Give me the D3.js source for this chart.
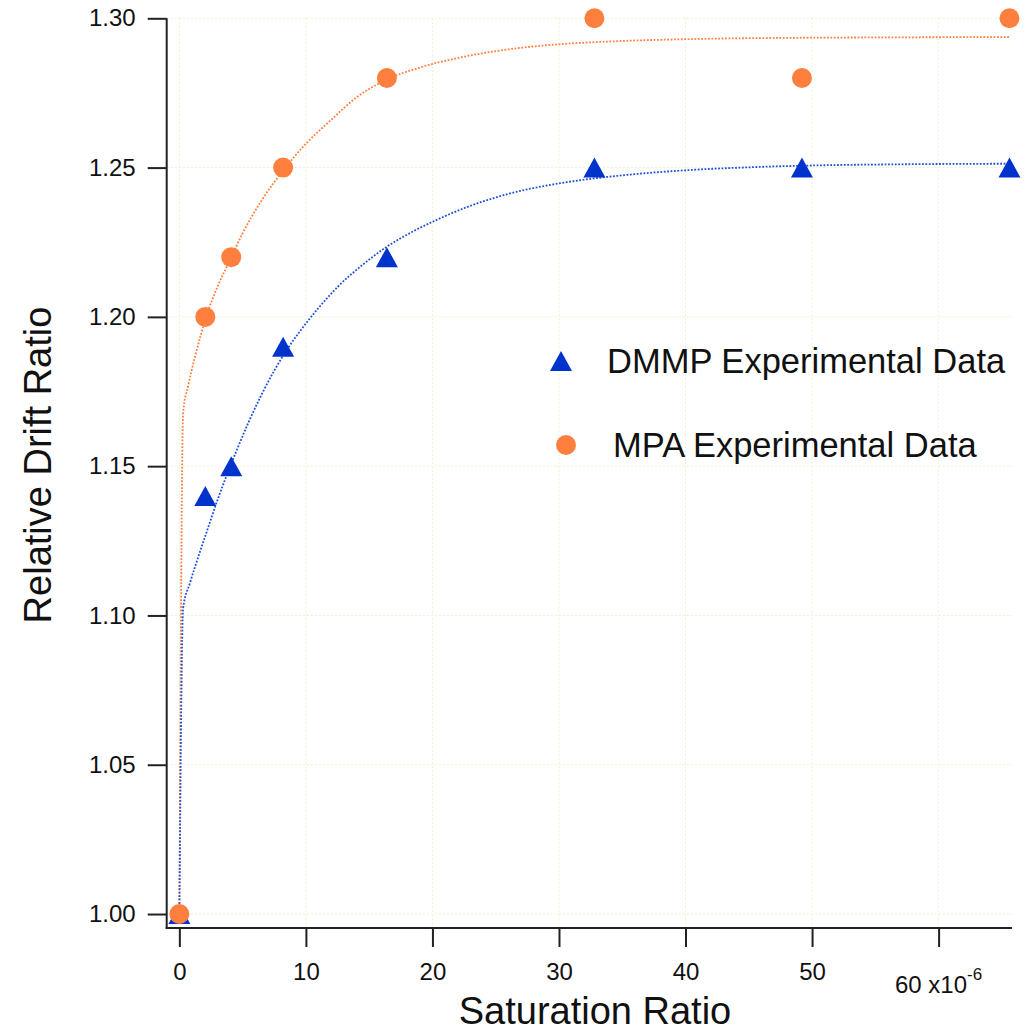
<!DOCTYPE html>
<html>
<head>
<meta charset="utf-8">
<script src="https://cdn.jsdelivr.net/npm/d3@7"></script>
<style>
  html, body { margin: 0; padding: 0; background: #fff; }
  svg { display: block; font-family: "Liberation Sans", Arial, Helvetica, sans-serif; }
</style>
</head>
<body>
<svg id="chart" width="1030" height="1031"></svg>
<script>
// ---------- data ----------
const saturation = [0, 2.05, 4.1, 8.2, 16.4, 32.8, 49.2, 65.6];           // x 10^-6
const dmmpValues = [1.00, 1.14, 1.15, 1.19, 1.22, 1.25, 1.25, 1.25];
const mpaValues  = [1.00, 1.20, 1.22, 1.25, 1.28, 1.30, 1.28, 1.30];

// fitted curves
const dmmpFitX = [0, 0.3, 0.85, 1.5, 2.2, 3.0, 3.7, 4.5, 5.5, 6.5, 7.5, 8.5, 9.5, 11, 12.5, 14.5, 16.4, 18.5, 20.5, 23, 26, 30, 35, 40, 45, 50, 57, 65.6];
const dmmpFitY = [1.000, 1.1025, 1.111, 1.1197, 1.1285, 1.1385, 1.1465, 1.1550, 1.1650, 1.1740, 1.1820, 1.1890, 1.1950, 1.2030, 1.2100, 1.2175, 1.2235, 1.2287, 1.2328, 1.2372, 1.2412, 1.2447, 1.2474, 1.2491, 1.2501, 1.2507, 1.2511, 1.2513];
const mpaFitX = [0, 0.3, 0.7, 1.2, 1.7, 2.2, 3.0, 4.0, 5.0, 6.5, 8.2, 10, 12, 14, 16.4, 19, 22, 26, 30, 35, 40, 50, 65.6];
const mpaFitY = [1.000, 1.168, 1.177, 1.186, 1.194, 1.201, 1.210, 1.219, 1.228, 1.239, 1.249, 1.258, 1.266, 1.2735, 1.2795, 1.2835, 1.2867, 1.2896, 1.2913, 1.2924, 1.2930, 1.2935, 1.2937];

const xTicks = [0, 10, 20, 30, 40, 50, 60];
const yTicks = [1.00, 1.05, 1.10, 1.15, 1.20, 1.25, 1.30];
const legendLabels = ["DMMP Experimental Data", "MPA Experimental Data"];

// ---------- layout ----------
const svg = d3.select("#chart");
const ORANGE = "#ff7f3f";
const BLUE = "#0033cc";
const BLUE_LINE = "#1f4fd8";
const GRID = "#e4f5d2";

const x = d3.scaleLinear().domain([-1, 65.8]).range([166.7, 1012]);
const y = d3.scaleLinear().domain([0.99532, 1.30]).range([928, 18.3]);

// grid
const grid = svg.append("g");
grid.selectAll("line.vx").data(xTicks).join("line")
  .attr("x1", d => x(d)).attr("x2", d => x(d))
  .attr("y1", y(1.30)).attr("y2", 928)
  .attr("stroke", GRID).attr("stroke-width", 1).attr("stroke-dasharray", "2,2");
grid.selectAll("line.hy").data(yTicks).join("line")
  .attr("x1", 166.7).attr("x2", 1012)
  .attr("y1", d => y(d)).attr("y2", d => y(d))
  .attr("stroke", GRID).attr("stroke-width", 1).attr("stroke-dasharray", "2,2");

// fit lines
const line = d3.line().x(d => x(d[0])).y(d => y(d[1])).curve(d3.curveMonotoneX);
svg.append("path")
  .attr("d", line(mpaFitX.map((v, i) => [v, mpaFitY[i]])))
  .attr("fill", "none").attr("stroke", ORANGE).attr("stroke-width", 1.8)
  .attr("stroke-dasharray", "1.8,1.6");
svg.append("path")
  .attr("d", line(dmmpFitX.map((v, i) => [v, dmmpFitY[i]])))
  .attr("fill", "none").attr("stroke", BLUE_LINE).attr("stroke-width", 1.8)
  .attr("stroke-dasharray", "1.8,1.6");

// markers
const tri = (cx, cy) => `M${cx},${cy - 10}L${cx + 11},${cy + 10}L${cx - 11},${cy + 10}Z`;
svg.append("g").selectAll("path").data(saturation).join("path")
  .attr("d", (d, i) => tri(x(d), y(dmmpValues[i])))
  .attr("fill", BLUE);
svg.append("g").selectAll("circle").data(saturation).join("circle")
  .attr("cx", d => x(d)).attr("cy", (d, i) => y(mpaValues[i])).attr("r", 10)
  .attr("fill", ORANGE);

// axes
const axisColor = "#222";
const yAxis = d3.axisLeft(y).tickValues(yTicks).tickFormat(d3.format(".2f")).tickSize(19).tickPadding(12);
const gy = svg.append("g").attr("transform", "translate(166.7,0)").call(yAxis);
gy.select(".domain").remove();
gy.append("line").attr("x1", 0).attr("x2", 0).attr("y1", y(1.30)).attr("y2", 929)
  .attr("stroke", axisColor).attr("stroke-width", 2);
gy.selectAll(".tick line").attr("stroke", axisColor).attr("stroke-width", 2);
gy.selectAll(".tick text").attr("font-size", 24).attr("fill", "#111")
  .attr("font-family", "'Liberation Sans', Arial, sans-serif");

const xAxis = d3.axisBottom(x).tickValues(xTicks).tickFormat(d => d === 60 ? "" : String(d)).tickSize(19).tickPadding(16);
const gx = svg.append("g").attr("transform", "translate(0,928)").call(xAxis);
gx.select(".domain").remove();
gx.append("line").attr("x1", 165.7).attr("x2", 1012).attr("y1", 0).attr("y2", 0)
  .attr("stroke", axisColor).attr("stroke-width", 2);
gx.selectAll(".tick line").attr("stroke", axisColor).attr("stroke-width", 2);
gx.selectAll(".tick text").attr("font-size", 24).attr("fill", "#111")
  .attr("font-family", "'Liberation Sans', Arial, sans-serif");
// last tick label with exponent
const lastLbl = svg.append("text").attr("x", x(60)).attr("y", 992.5)
  .attr("text-anchor", "middle").attr("font-size", 24).attr("fill", "#111");
lastLbl.append("tspan").text("60 x10");
lastLbl.append("tspan").attr("dy", -13).attr("font-size", 17).text("-6");

// axis titles
svg.append("text").attr("x", 595).attr("y", 1024).attr("text-anchor", "middle")
  .attr("font-size", 38).attr("fill", "#111").text("Saturation Ratio");
svg.append("text").attr("transform", "translate(51,465) rotate(-90)")
  .attr("text-anchor", "middle").attr("font-size", 38).attr("fill", "#111")
  .text("Relative Drift Ratio");

// legend
const lg = svg.append("g");
lg.append("path").attr("d", tri(561, 361)).attr("fill", BLUE);
lg.append("text").attr("x", 607).attr("y", 373).attr("font-size", 34.5).attr("fill", "#111").text(legendLabels[0]);
lg.append("circle").attr("cx", 566).attr("cy", 445).attr("r", 10).attr("fill", ORANGE);
lg.append("text").attr("x", 613).attr("y", 457).attr("font-size", 34.5).attr("fill", "#111").text(legendLabels[1]);
</script>
</body>
</html>
